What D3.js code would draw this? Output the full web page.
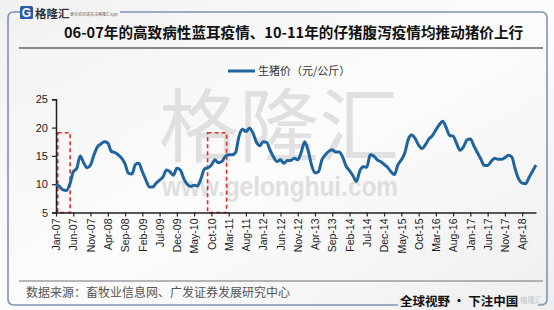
<!DOCTYPE html>
<html>
<head>
<meta charset="utf-8">
<script src="https://cdn.jsdelivr.net/npm/d3@7"></script>
<style>
html,body{margin:0;padding:0;background:#eeeeee;}
svg{display:block;}
</style>
</head>
<body>
<svg id="chart" width="554" height="310"></svg>
<script>
// ---- data ----
const title = "06-07年的高致病性蓝耳疫情、10-11年的仔猪腹泻疫情均推动猪价上行";
const seriesName = "生猪价（元/公斤）";
const source = "数据来源：畜牧业信息网、广发证券发展研究中心";
// monthly, Jan-07 .. Aug-18
const months = d3.timeMonth.range(new Date(2007, 0, 1), new Date(2018, 8, 1)).map(d3.timeFormat("%b-%y"));
const hogPrice = [
  10.0, 9.6, 9.0, 8.9, 10.0, 12.2, 12.8, 15.0, 13.8, 12.9, 13.4, 15.2,
  16.6, 17.1, 17.5, 17.3, 15.8, 15.6, 15.2, 14.6, 13.6, 11.9, 11.8, 13.5,
  13.7, 12.2, 10.8, 9.5, 9.5, 10.2, 10.7, 11.3, 12.5, 12.2, 11.6, 12.8,
  12.5, 11.0, 10.0, 9.6, 9.8, 9.7, 11.0, 12.7, 12.9, 13.4, 14.3, 13.8,
  14.0, 14.9, 15.2, 15.2, 15.6, 18.5, 19.7, 19.3, 19.9, 19.1, 17.5, 16.8,
  17.5, 17.4, 16.0, 14.8, 14.0, 14.3, 13.7, 14.2, 14.2, 14.6, 14.3, 15.6,
  17.5, 16.0, 13.4, 12.0, 12.2, 14.3, 15.2, 15.8, 16.1, 15.7, 15.7, 14.8,
  13.2, 12.4, 11.5, 10.5, 12.4, 13.1, 13.0, 15.2, 15.0, 14.3, 14.0, 13.5,
  13.0, 12.2, 11.7, 13.4, 14.3, 15.5, 17.9, 18.7, 18.1, 16.9, 16.3, 17.0,
  18.0, 18.6, 19.6, 20.5, 21.1, 20.0, 18.6, 18.5, 17.2, 16.0, 16.6, 17.8,
  18.0, 16.8, 15.6, 14.5, 13.3, 13.3, 14.0, 14.6, 14.4, 14.4, 14.7, 15.1,
  14.8, 12.6, 10.9, 10.2, 10.1, 11.2, 12.3, 13.4
];
const tickLabels = ["Jan-07","Jun-07","Nov-07","Apr-08","Sep-08","Feb-09","Jul-09","Dec-09","May-10","Oct-10","Mar-11","Aug-11","Jan-12","Jun-12","Nov-12","Apr-13","Sep-13","Feb-14","Jul-14","Dec-14","May-15","Oct-15","Mar-16","Aug-16","Jan-17","Jun-17","Nov-17","Apr-18"];
const yTicks = [5, 10, 15, 20, 25];
// epidemic periods (month index from Jan-07) and box top value
const boxFrom = [0.5, 43.9];
const boxTo = [4.1, 49.4];
const boxTop = [19.1, 19.1];

// ---- drawing ----
const svg = d3.select("#chart");
const W = 554, H = 310;

const defs = svg.append("defs");
const g1 = defs.append("linearGradient").attr("id","bg").attr("x1","0").attr("y1","0").attr("x2","1").attr("y2","1");
g1.append("stop").attr("offset","0").attr("stop-color","#f1f1f1");
g1.append("stop").attr("offset","0.5").attr("stop-color","#fcfcfc");
g1.append("stop").attr("offset","1").attr("stop-color","#efefef");
svg.append("rect").attr("width",W).attr("height",H).attr("fill","url(#bg)");

// frame
svg.append("path")
  .attr("d","M20,12 L14,12 Q8,12 8,18 L8,299 Q8,305 14,305 L398,305")
  .attr("fill","none").attr("stroke","#7f93b3").attr("stroke-width",1.6);
svg.append("path")
  .attr("d","M120,12 L541,12 Q547,12 547,18 L547,299 Q547,305 541,305 L538,305")
  .attr("fill","none").attr("stroke","#7f93b3").attr("stroke-width",1.6);
svg.append("line").attr("x1",19).attr("x2",543).attr("y1",48).attr("y2",48)
  .attr("stroke","#8a8a8a").attr("stroke-width",2);
svg.append("line").attr("x1",19).attr("x2",543).attr("y1",281).attr("y2",281)
  .attr("stroke","#707070").attr("stroke-width",1.2);

// logo
svg.append("rect").attr("x",20).attr("y",6).attr("width",13).attr("height",13).attr("rx",1.5).attr("fill","#2a5aa8");
svg.append("text").attr("x",26.5).attr("y",17).attr("text-anchor","middle")
  .attr("font-family","Liberation Sans, Arial, sans-serif").attr("font-weight","bold").attr("font-size",12)
  .attr("fill","#fff").text("G");
svg.append("text").attr("x",35).attr("y",17.5)
  .attr("font-family","Noto Sans CJK SC").attr("font-weight","bold").attr("font-size",11.5)
  .attr("fill","#333").text("格隆汇");
svg.append("text").attr("x",70).attr("y",16)
  .attr("font-family","Noto Sans CJK SC").attr("font-size",4)
  .attr("fill","#666").text("更多资讯请关注格隆汇App");

// title
svg.append("text").attr("x",64).attr("y",38)
  .attr("font-family","Noto Sans CJK SC, sans-serif").attr("font-weight","bold").attr("font-size",14.6)
  .attr("fill","#111").text(title);

// footer
svg.append("text").attr("x",26).attr("y",297)
  .attr("font-family","Noto Sans CJK SC, sans-serif").attr("font-size",12)
  .attr("fill","#555").text(source);
svg.append("rect").attr("x",398).attr("y",296).attr("width",140).attr("height",14).attr("fill","#f0f0f0");
svg.append("text").attr("x",520).attr("y",303)
  .attr("font-family","Noto Sans CJK SC, sans-serif").attr("font-size",7.5)
  .attr("fill","#c4c4c4").text("格隆汇");
svg.append("text").attr("x",400).attr("y",306)
  .attr("font-family","Noto Sans CJK SC, sans-serif").attr("font-weight","bold").attr("font-size",12.5)
  .attr("fill","#111").text("全球视野 · 下注中国");

// scales
const x = d3.scaleLinear().domain([0, hogPrice.length - 1]).range([56, 536]);
const y = d3.scaleLinear().domain([5, 25]).range([212.5, 99.3]);

// watermark
svg.append("text").attr("x",279).attr("y",155).attr("text-anchor","middle")
  .attr("font-family","Noto Sans CJK SC, sans-serif").attr("font-size",80)
  .attr("fill","#d6d6d6").attr("opacity",0.7).text("格隆汇");
svg.append("text").attr("x",162).attr("y",196)
  .attr("font-family","Liberation Sans, Arial, sans-serif").attr("font-weight","bold").attr("font-size",27)
  .attr("textLength",236).attr("lengthAdjust","spacingAndGlyphs")
  .attr("fill","#d6d6d6").attr("opacity",0.75).text("www.gelonghui.com");

// highlight boxes
svg.append("g").selectAll("rect").data(boxFrom).join("rect")
  .attr("x",(d)=>x(d))
  .attr("y",(d,i)=>y(boxTop[i]))
  .attr("width",(d,i)=>x(boxTo[i]) - x(d))
  .attr("height",(d,i)=>y(5) - y(boxTop[i]))
  .attr("fill","none").attr("stroke","#e02b2b").attr("stroke-width",1.6)
  .attr("stroke-dasharray","4,3");

// axes
const yAxis = svg.append("g").attr("transform",`translate(${x(0)},0)`)
  .call(d3.axisLeft(y).tickValues(yTicks).tickSize(4).tickPadding(4));
yAxis.select(".domain").attr("stroke","#222").attr("stroke-width",1.5);
yAxis.selectAll(".tick line").attr("stroke","#222").attr("stroke-width",1.2);
yAxis.selectAll("text").attr("font-family","Liberation Sans, Arial, sans-serif").attr("font-size",11).attr("fill","#222");

const xAxis = svg.append("g").attr("transform",`translate(0,${y(5)})`)
  .call(d3.axisBottom(x).tickValues(tickLabels.map((d,i)=>i*5)).tickFormat((d,i)=>tickLabels[i]).tickSize(4).tickSizeOuter(0));
xAxis.select(".domain").attr("stroke","#222").attr("stroke-width",1.5);
xAxis.selectAll(".tick line").attr("stroke","#222").attr("stroke-width",1.2);
xAxis.selectAll("text")
  .attr("font-family","Liberation Sans, Arial, sans-serif").attr("font-size",10.5).attr("fill","#222")
  .attr("text-anchor","end").attr("dy","0.35em")
  .attr("transform","translate(0,2) rotate(-90)")
  .attr("x",-4).attr("y",0);

// line
const line = d3.line().x((d,i)=>x(i)).y(d=>y(d)).curve(d3.curveMonotoneX);
svg.append("path").datum(hogPrice).attr("d",line)
  .attr("fill","none").attr("stroke","#1f649f").attr("stroke-width",3).attr("stroke-linejoin","round");

// legend
svg.append("line").attr("x1",228).attr("x2",255).attr("y1",71).attr("y2",71)
  .attr("stroke","#1f649f").attr("stroke-width",3);
svg.append("text").attr("x",258).attr("y",75)
  .attr("font-family","Noto Sans CJK SC, sans-serif").attr("font-size",11)
  .attr("fill","#333").text(seriesName);
</script>
</body>
</html>
